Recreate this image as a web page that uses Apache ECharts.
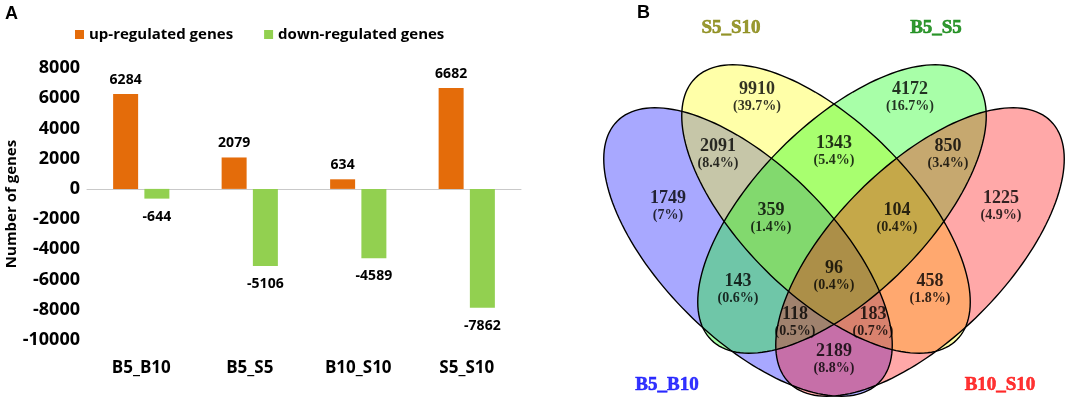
<!DOCTYPE html>
<html>
<head>
<meta charset="utf-8">
<script src="https://cdn.jsdelivr.net/npm/echarts@6/dist/echarts.min.js"></script>
<style>
  html, body { margin: 0; padding: 0; background: #fff; }
  #chart { width: 1065px; height: 398px; }
</style>
</head>
<body>
<div id="chart"></div>
<script>
// panel A - number of DEGs per comparison
const comparisons = ['B5_B10', 'B5_S5', 'B10_S10', 'S5_S10']
const upRegulated = [6284, 2079, 634, 6682]
const downRegulated = [-644, -5106, -4589, -7862]
const yMin = -10000
const yMax = 8000
const yStep = 2000

// panel B - venn of the four comparisons
const vennSets = ['B5_B10', 'S5_S10', 'B5_S5', 'B10_S10']
const vennSetColors = ['#0000ff', '#808000', '#008000', '#ff0000']
const vennFills = ['rgba(0,0,255,0.34)', 'rgba(255,255,0,0.34)', 'rgba(0,255,0,0.34)', 'rgba(255,0,0,0.34)']
// region counts (order matches vennLabelPos)
const vennCounts = [9910, 4172, 2091, 1343, 850, 1749, 1225, 359, 104, 96, 143, 458, 118, 183, 2189]

// layout of the venn, in a local space centred on the diagram (y up)
// [cx, cy, semi-major, semi-minor, angle deg]
const vennEllipses = [
  [-86, -22, 185, 86, 135],
  [-8, 21, 185, 86, 135],
  [8, 21, 185, 86, 45],
  [86, -22, 185, 86, 45],
]
const vennLabelPos = [
  [-77, 132], [76, 132], [-116, 75], [0, 78], [114, 75],
  [-166, 23], [167, 23], [-63, 11], [63, 11], [0, -47],
  [-96, -60], [96, -60], [-39, -93], [39, -93], [0, -130],
]
const vennSetPos = [[-167, -155], [-103, 202], [102, 202], [166, -155]]

const total = vennCounts.reduce((s, v) => s + v, 0)
const pct = (v) => (v / total * 100).toFixed(1).replace(/\.0$/, '') + '%'

const chart = echarts.init(document.getElementById('chart'))

const ellipseItem = (filled) => (params, api) => {
  const e = vennEllipses[params.dataIndex]
  const th = e[4] * Math.PI / 180
  const pts = []
  for (let i = 0; i < 160; i++) {
    const t = i / 160 * Math.PI * 2
    const x = e[0] + e[2] * Math.cos(t) * Math.cos(th) - e[3] * Math.sin(t) * Math.sin(th)
    const y = e[1] + e[2] * Math.cos(t) * Math.sin(th) + e[3] * Math.sin(t) * Math.cos(th)
    pts.push(api.coord([x, y]))
  }
  return {
    type: 'polygon',
    shape: { points: pts },
    style: filled
      ? { fill: vennFills[params.dataIndex], stroke: null }
      : { fill: null, stroke: '#000', lineWidth: 1.4 },
  }
}

const serifBold = { fontFamily: 'Liberation Serif', fontWeight: 'bold', color: '#000' }

const option = {
  animation: false,
  textStyle: { fontFamily: 'Open Sans' },
  title: [
    { text: 'A', left: 0, top: 0, textStyle: { fontSize: 18, fontWeight: 'bold', fontFamily: 'Liberation Sans', color: '#000' } },
    { text: 'B', left: 632, top: -1, textStyle: { fontSize: 18, fontWeight: 'bold', fontFamily: 'Liberation Sans', color: '#000' } },
  ],
  legend: {
    data: ['up-regulated genes', 'down-regulated genes'],
    left: 70,
    top: 22,
    icon: 'rect',
    itemWidth: 9,
    itemHeight: 9,
    itemGap: 31,
    textStyle: { fontSize: 15, fontWeight: 'bold', color: '#000' },
  },
  grid: [
    { left: 87, right: 544, top: 68, bottom: 58 },
    { left: 580, top: 0, width: 485, height: 398 },
  ],
  xAxis: [
    {
      gridIndex: 0,
      type: 'category',
      data: comparisons,
      axisLine: { onZero: true, lineStyle: { color: '#c9c9c9', width: 1 } },
      axisTick: { show: false },
      axisLabel: { show: false },
    },
    {
      gridIndex: 0,
      type: 'category',
      data: comparisons,
      position: 'bottom',
      axisLine: { show: false, onZero: false },
      axisTick: { show: false },
      axisLabel: { margin: 20, fontSize: 17, fontWeight: 'bold', color: '#000' },
    },
    { gridIndex: 1, type: 'value', min: -254, max: 231, show: false },
  ],
  yAxis: [
    {
      gridIndex: 0,
      type: 'value',
      min: yMin,
      max: yMax,
      interval: yStep,
      axisLine: { show: false },
      axisTick: { show: false },
      splitLine: { show: false },
      axisLabel: { fontSize: 18, fontWeight: 'bold', color: '#000', margin: 7, formatter: (v) => String(v) },
      name: 'Number of genes',
      nameLocation: 'middle',
      nameGap: 65,
      nameTextStyle: { fontSize: 15, fontWeight: 'bold', color: '#000' },
    },
    { gridIndex: 1, type: 'value', min: -168, max: 230, show: false },
  ],
  series: [
    {
      name: 'up-regulated genes',
      type: 'bar',
      xAxisIndex: 0,
      yAxisIndex: 0,
      data: upRegulated,
      barWidth: 25,
      barGap: '25%',
      itemStyle: { color: '#e46c0a' },
      label: { show: true, position: 'top', distance: 7, fontSize: 14, fontWeight: 'bold', color: '#000' },
    },
    {
      name: 'down-regulated genes',
      type: 'bar',
      xAxisIndex: 0,
      yAxisIndex: 0,
      data: downRegulated,
      barWidth: 25,
      itemStyle: { color: '#92d050' },
      label: { show: true, position: 'bottom', distance: 11, fontSize: 14, fontWeight: 'bold', color: '#000' },
    },
    {
      type: 'custom',
      xAxisIndex: 2,
      yAxisIndex: 1,
      silent: true,
      renderItem: ellipseItem(true),
      data: vennEllipses.map((e) => [e[0], e[1]]),
    },
    {
      type: 'custom',
      xAxisIndex: 2,
      yAxisIndex: 1,
      silent: true,
      renderItem: ellipseItem(false),
      data: vennEllipses.map((e) => [e[0], e[1]]),
    },
    {
      type: 'scatter',
      xAxisIndex: 2,
      yAxisIndex: 1,
      silent: true,
      symbolSize: 1,
      itemStyle: { color: 'rgba(0,0,0,0)' },
      data: vennLabelPos.map((p) => p),
      label: {
        show: true,
        position: 'inside',
        formatter: (p) => '{n|' + vennCounts[p.dataIndex] + '}\n{p|(' + pct(vennCounts[p.dataIndex]) + ')}',
        rich: {
          n: { ...serifBold, fontSize: 18, lineHeight: 16.5 },
          p: { ...serifBold, fontSize: 14, lineHeight: 16.5 },
        },
      },
    },
    {
      type: 'scatter',
      xAxisIndex: 2,
      yAxisIndex: 1,
      silent: true,
      symbolSize: 1,
      itemStyle: { color: 'rgba(0,0,0,0)' },
      data: vennSetPos.map((p, i) => ({
        value: p,
        label: { color: vennSetColors[i], textBorderColor: vennSetColors[i], textBorderWidth: 0.6 },
      })),
      label: {
        show: true,
        position: 'inside',
        formatter: (p) => vennSets[p.dataIndex],
        ...serifBold,
        fontSize: 19,
      },
    },
  ],
}

chart.setOption(option)
</script>
</body>
</html>
